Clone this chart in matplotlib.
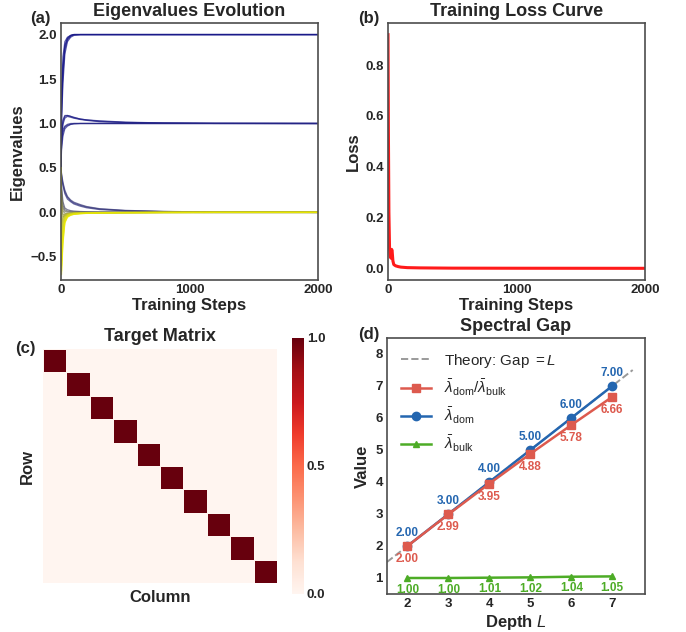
import numpy as np
import matplotlib
matplotlib.use('Agg')
import matplotlib.pyplot as plt
from matplotlib.colors import LinearSegmentedColormap

plt.rcParams['font.family'] = ['Liberation Sans', 'DejaVu Sans']
plt.rcParams['font.weight'] = 'bold'
plt.rcParams['axes.labelweight'] = 'bold'
plt.rcParams['axes.titleweight'] = 'bold'
plt.rcParams['mathtext.fontset'] = 'custom'
plt.rcParams['mathtext.rm'] = 'Liberation Sans:regular'
plt.rcParams['mathtext.it'] = 'Liberation Sans:italic:regular'
plt.rcParams['mathtext.bf'] = 'Liberation Sans:bold'
plt.rcParams['text.color'] = '#262626'
plt.rcParams['axes.labelcolor'] = '#262626'
plt.rcParams['xtick.color'] = '#262626'
plt.rcParams['ytick.color'] = '#262626'

# ---- (a) eigenvalue trajectories, read at these training steps ----
eig_steps = [0, 4, 15, 30, 50, 75, 100, 150, 200, 300, 500, 800, 1200, 2000]

eig_to_two = [
    [0.5, 1.20, 1.65, 1.88, 1.96, 1.99, 2.00, 2.00, 2.00, 2.00, 2.00, 2.00, 2.00, 2.00],
    [0.5, 1.30, 1.75, 1.92, 1.97, 1.99, 2.00, 2.00, 2.00, 2.00, 2.00, 2.00, 2.00, 2.00],
    [0.5, 1.10, 1.55, 1.83, 1.94, 1.98, 2.00, 2.00, 2.00, 2.00, 2.00, 2.00, 2.00, 2.00],
    [0.5, 1.00, 1.45, 1.78, 1.92, 1.97, 1.99, 2.00, 2.00, 2.00, 2.00, 2.00, 2.00, 2.00],
    [0.5, 1.25, 1.60, 1.86, 1.95, 1.99, 2.00, 2.00, 2.00, 2.00, 2.00, 2.00, 2.00, 2.00],
]
eig_to_one_over = [
    [0.5, 0.85, 1.02, 1.08, 1.09, 1.08, 1.07, 1.05, 1.04, 1.025, 1.012, 1.005, 1.001, 1.00],
    [0.5, 0.80, 0.99, 1.06, 1.08, 1.07, 1.06, 1.045, 1.035, 1.02, 1.01, 1.004, 1.001, 1.00],
    [0.5, 0.88, 1.04, 1.09, 1.09, 1.08, 1.065, 1.05, 1.04, 1.03, 1.015, 1.006, 1.002, 1.00],
]
eig_to_one = [
    [0.5, 0.75, 0.90, 0.96, 0.98, 0.99, 1.00, 1.00, 1.00, 1.00, 1.00, 1.00, 1.00, 1.00],
    [0.5, 0.70, 0.86, 0.94, 0.97, 0.99, 0.995, 1.00, 1.00, 1.00, 1.00, 1.00, 1.00, 1.00],
    [0.5, 0.80, 0.93, 0.97, 0.99, 1.00, 1.00, 1.00, 1.00, 1.00, 1.00, 1.00, 1.00, 1.00],
]
eig_decay_slow = [
    [0.5, 0.42, 0.32, 0.23, 0.17, 0.13, 0.105, 0.08, 0.06, 0.038, 0.02, 0.01, 0.004, 0.0],
    [0.5, 0.40, 0.30, 0.21, 0.15, 0.12, 0.095, 0.07, 0.052, 0.032, 0.017, 0.008, 0.003, 0.0],
    [0.5, 0.44, 0.34, 0.25, 0.18, 0.14, 0.115, 0.088, 0.066, 0.042, 0.023, 0.011, 0.005, 0.0],
]
eig_decay_fast = [
    [0.5, 0.30, 0.12, 0.05, 0.03, 0.02, 0.015, 0.01, 0.008, 0.005, 0.003, 0.001, 0.0, 0.0],
    [0.5, 0.25, 0.08, 0.03, 0.015, 0.01, 0.008, 0.006, 0.004, 0.003, 0.002, 0.001, 0.0, 0.0],
    [0.5, 0.20, 0.05, 0.012, 0.005, 0.003, 0.002, 0.001, 0.0, 0.0, 0.0, 0.0, 0.0, 0.0],
    [0.5, 0.15, 0.02, -0.01, -0.01, -0.006, -0.004, -0.003, -0.002, -0.001, 0.0, 0.0, 0.0, 0.0],
    [0.5, 0.10, -0.02, -0.03, -0.02, -0.012, -0.008, -0.005, -0.003, -0.002, -0.001, 0.0, 0.0, 0.0],
    [0.5, 0.05, -0.05, -0.04, -0.03, -0.018, -0.012, -0.008, -0.005, -0.003, -0.001, 0.0, 0.0, 0.0],
]
eig_from_below = [
    [0.5, -0.12, -0.05, -0.02, -0.012, -0.008, -0.006, -0.004, -0.003, -0.002, -0.001, 0.0, 0.0, 0.0],
    [0.5, -0.18, -0.07, -0.03, -0.015, -0.01, -0.007, -0.005, -0.004, -0.002, -0.001, 0.0, 0.0, 0.0],
    [0.5, -0.25, -0.10, -0.04, -0.02, -0.012, -0.008, -0.006, -0.004, -0.003, -0.001, 0.0, 0.0, 0.0],
    [0.5, -0.32, -0.13, -0.05, -0.025, -0.015, -0.01, -0.007, -0.005, -0.003, -0.002, 0.0, 0.0, 0.0],
    [0.5, -0.40, -0.17, -0.06, -0.03, -0.018, -0.012, -0.008, -0.006, -0.004, -0.002, -0.001, 0.0, 0.0],
    [0.5, -0.47, -0.20, -0.07, -0.035, -0.02, -0.014, -0.01, -0.007, -0.004, -0.002, -0.001, 0.0, 0.0],
    [0.5, -0.54, -0.24, -0.08, -0.04, -0.024, -0.016, -0.011, -0.008, -0.005, -0.002, -0.001, 0.0, 0.0],
    [0.5, -0.60, -0.28, -0.10, -0.045, -0.027, -0.018, -0.012, -0.009, -0.005, -0.003, -0.001, 0.0, 0.0],
    [0.5, -0.66, -0.32, -0.11, -0.05, -0.03, -0.02, -0.013, -0.01, -0.006, -0.003, -0.001, 0.0, 0.0],
    [0.5, -0.70, -0.36, -0.12, -0.055, -0.033, -0.022, -0.015, -0.011, -0.006, -0.003, -0.001, 0.0, 0.0],
]

# ---- (b) training loss ----
loss_steps = [0, 3, 7, 12, 18, 24, 28, 32, 38, 45, 60, 80, 100, 150, 250, 500, 1000, 2000]
loss_vals = [0.92, 0.55, 0.22, 0.08, 0.045, 0.04, 0.075, 0.07, 0.03, 0.015, 0.01,
             0.007, 0.005, 0.003, 0.002, 0.001, 0.0006, 0.0003]

# ---- (c) target matrix ----
target_size = 10

# ---- (d) spectral gap vs depth ----
depths = [2, 3, 4, 5, 6, 7]
gap_ratio = [2.00, 2.99, 3.95, 4.88, 5.78, 6.66]
lam_dom = [2.00, 3.00, 4.00, 5.00, 6.00, 7.00]
lam_bulk = [1.00, 1.00, 1.01, 1.02, 1.04, 1.05]
theory_depth = [1.5, 7.5]

W, H = 686, 632
fig = plt.figure(figsize=(W / 100, H / 100), dpi=100)


def px_axes(left, top, right, bottom):
    return fig.add_axes([left / W, 1 - bottom / H, (right - left) / W, (bottom - top) / H])


def style_box(ax):
    for sp in ax.spines.values():
        sp.set_color('#4d4d4d')
        sp.set_linewidth(1.2)
    ax.tick_params(length=0, labelsize=9.5, pad=3)


# (a)
ax_a = px_axes(61, 23, 318, 280)
all_traj = eig_to_two + eig_to_one_over + eig_to_one + eig_decay_slow + eig_decay_fast + eig_from_below
cmap = LinearSegmentedColormap.from_list(
    'navy_yellow', [(0.0, '#14148c'), (0.35, '#252585'), (0.45, '#3c3c78'),
                    (0.6, '#86864f'), (0.8, '#cccc28'), (1.0, '#e8e800')])
n = len(all_traj)
for i, traj in enumerate(all_traj):
    ax_a.plot(eig_steps, traj, color=cmap(i / (n - 1)), lw=0.9, alpha=0.7)
ax_a.set_xlim(0, 2000)
ax_a.set_ylim(-0.76, 2.13)
ax_a.set_xticks([0, 1000, 2000])
ax_a.set_yticks([-0.5, 0.0, 0.5, 1.0, 1.5, 2.0])
ax_a.set_title('Eigenvalues Evolution', fontsize=13, pad=5)
ax_a.set_xlabel('Training Steps', fontsize=12, labelpad=1)
ax_a.set_ylabel('Eigenvalues', fontsize=12, labelpad=4)
style_box(ax_a)

# (b)
ax_b = px_axes(388, 23, 645, 280)
ax_b.plot(loss_steps, loss_vals, color='#ff1a1a', lw=2.2)
ax_b.set_xlim(0, 2000)
ax_b.set_xticks([0, 1000, 2000])
ax_b.set_yticks([0.0, 0.2, 0.4, 0.6, 0.8])
ax_b.set_title('Training Loss Curve', fontsize=13, pad=5)
ax_b.set_xlabel('Training Steps', fontsize=12, labelpad=1)
ax_b.set_ylabel('Loss', fontsize=12, labelpad=3)
style_box(ax_b)

# (c)
ax_c = px_axes(43, 349, 277, 583)
target = np.eye(target_size)
reds = plt.get_cmap('Reds')
mesh = ax_c.pcolormesh(target, cmap=reds, vmin=0, vmax=1,
                       edgecolors=reds(0.0), linewidth=0.6)
ax_c.set_xlim(0, target_size)
ax_c.set_ylim(target_size, 0)
ax_c.set_xticks([])
ax_c.set_yticks([])
for sp in ax_c.spines.values():
    sp.set_visible(False)
ax_c.set_title('Target Matrix', fontsize=13, pad=6)
ax_c.set_xlabel('Column', fontsize=12, labelpad=5)
ax_c.set_ylabel('Row', fontsize=12, labelpad=6)

cax = px_axes(292, 338, 304, 594)
cb = fig.colorbar(mesh, cax=cax, ticks=[0.0, 0.5, 1.0], format='%.1f')
cb.outline.set_visible(False)
cb.ax.tick_params(length=0, labelsize=9.5, pad=2)

# (d)
ax_d = px_axes(387, 338, 645, 594)
c_ratio, c_dom, c_bulk = '#dd5a4e', '#2466b0', '#4dac26'
h_theory, = ax_d.plot(theory_depth, theory_depth, ls='--', color='gray', lw=1.4, alpha=0.8,
                      label='Theory: Gap $=L$')
h_dom, = ax_d.plot(depths, lam_dom, '-o', color=c_dom, lw=1.8, ms=6,
                   label=r'$\bar{\lambda}_{\mathrm{dom}}$', zorder=3)
h_ratio, = ax_d.plot(depths, gap_ratio, '-s', color=c_ratio, lw=1.8, ms=6,
                     label=r'$\bar{\lambda}_{\mathrm{dom}}/\bar{\lambda}_{\mathrm{bulk}}$', zorder=4)
h_bulk, = ax_d.plot(depths, lam_bulk, '-^', color=c_bulk, lw=1.8, ms=5,
                    label=r'$\bar{\lambda}_{\mathrm{bulk}}$', zorder=3)
for x, v in zip(depths, lam_dom):
    ax_d.annotate(f'{v:.2f}', (x, v), xytext=(0, 5), textcoords='offset points',
                  ha='center', va='bottom', color=c_dom, fontsize=8.5, fontweight='bold')
for x, v in zip(depths, gap_ratio):
    ax_d.annotate(f'{v:.2f}', (x, v), xytext=(0, -5), textcoords='offset points',
                  ha='center', va='top', color=c_ratio, fontsize=8.5, fontweight='bold')
for x, v in zip(depths, lam_bulk):
    ax_d.annotate(f'{v:.2f}', (x, v), xytext=(0, -4), textcoords='offset points',
                  ha='center', va='top', color=c_bulk, fontsize=8.5, fontweight='bold')
ax_d.set_xlim(1.5, 7.8)
ax_d.set_ylim(0.5, 8.5)
ax_d.set_xticks(depths)
ax_d.set_yticks(range(1, 9))
ax_d.set_title('Spectral Gap', fontsize=13, pad=5)
ax_d.set_xlabel('Depth $L$', fontsize=12, labelpad=2)
ax_d.set_ylabel('Value', fontsize=12, labelpad=4)
ax_d.legend(handles=[h_theory, h_ratio, h_dom, h_bulk], loc='upper left', frameon=False,
            prop={'weight': 'normal', 'size': 11}, handlelength=2.0, labelspacing=0.5)
style_box(ax_d)

# panel tags
for tag, x, y in [('(a)', 30, 18), ('(b)', 358, 18), ('(c)', 15, 348), ('(d)', 358, 334)]:
    fig.text(x / W, 1 - y / H, tag, fontsize=12, fontweight='bold', ha='left', va='center')

fig.savefig('out.png', dpi=100)
